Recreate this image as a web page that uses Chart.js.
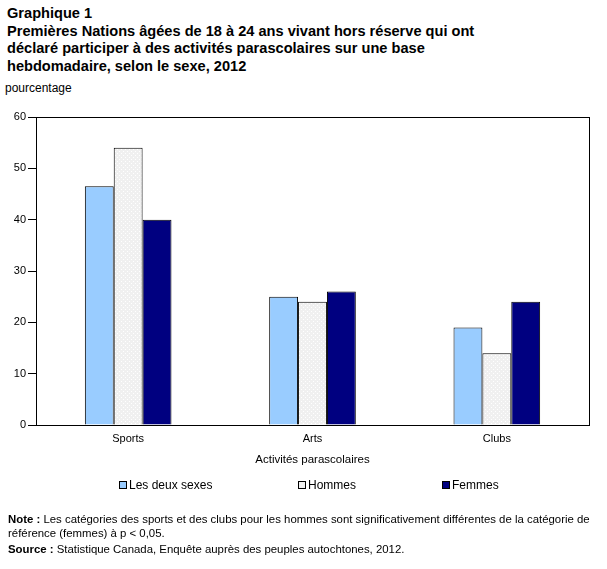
<!DOCTYPE html>
<html>
<head>
<meta charset="utf-8">
<script src="https://cdn.jsdelivr.net/npm/chart.js@4"></script>
<style>
  body { margin: 0; background: #fff; font-family: "Liberation Sans", Arial, sans-serif; color: #000; }
  #page { position: relative; width: 607px; height: 569px; overflow: hidden; }
  #titre { position: absolute; left: 7px; top: 5px; font-weight: bold; font-size: 14.6px; line-height: 17.7px; }
  #unite { position: absolute; left: 5px; top: 81px; font-size: 12px; }
  #wrap { position: absolute; left: 0; top: 0; width: 607px; height: 569px; }
  #legende { position: absolute; top: 478px; left: 0; width: 607px; font-size: 12px; }
  #legende span.item { position: absolute; white-space: nowrap; }
  #legende span.box { display: inline-block; width: 6px; height: 6px; border: 1px solid #000; margin-right: 2px; vertical-align: 0px; }
  #notes { position: absolute; left: 8px; top: 512px; width: 597px; font-size: 11.4px; line-height: 14px; }
  #notes p { margin: 0 0 2px 0; }
</style>
</head>
<body>
<div id="page">
  <div id="titre">Graphique 1<br>Premières Nations âgées de 18 à 24 ans vivant hors réserve qui ont<br>déclaré participer à des activités parascolaires sur une base<br>hebdomadaire, selon le sexe, 2012</div>
  <div id="unite">pourcentage</div>
  <div id="wrap"><canvas id="grafico"></canvas></div>
  <div id="legende"></div>
  <div id="notes">
    <p><b>Note :</b> Les catégories des sports et des clubs pour les hommes sont significativement différentes de la catégorie de référence (femmes) à p &lt; 0,05.</p>
    <p><b>Source :</b> Statistique Canada, Enquête auprès des peuples autochtones, 2012.</p>
  </div>
</div>
<script>
const categories = ["Sports", "Arts", "Clubs"];
const deuxSexes = [46.5, 25, 19];
const hommes = [54, 24, 14];
const femmes = [40, 26, 24];
const nomsSeries = ["Les deux sexes", "Hommes", "Femmes"];
const ticksY = [0, 10, 20, 30, 40, 50, 60];

// petit motif pointillé pour la série Hommes
function motif() {
  const c = document.createElement("canvas");
  c.width = 4; c.height = 4;
  const g = c.getContext("2d");
  g.fillStyle = "#f0f0f0";
  g.fillRect(0, 0, 4, 4);
  g.fillStyle = "#ffffff";
  g.fillRect(1, 1, 1, 1);
  g.fillRect(3, 3, 1, 1);
  return g.createPattern(c, "repeat");
}

const couleurs = ["#99ccff", motif(), "#000080"];
const couleursLegende = ["#99ccff", "#f0f0f0", "#000080"];

const cadre = {
  id: "cadre",
  afterDraw(chart) {
    const a = chart.chartArea;
    const ctx = chart.ctx;
    ctx.save();
    ctx.strokeStyle = "#000";
    ctx.lineWidth = 1;
    ctx.strokeRect(Math.round(a.left) + 0.5, Math.round(a.top) + 0.5, Math.round(a.right - a.left), Math.round(a.bottom - a.top));
    ctx.restore();
  }
};

Chart.defaults.font.family = '"Liberation Sans", Arial, sans-serif';
Chart.defaults.color = "#000";

const series = [deuxSexes, hommes, femmes];
const ctx = document.getElementById("grafico").getContext("2d");
const grafico = new Chart(ctx, {
  type: "bar",
  data: {
    labels: categories,
    datasets: series.map((d, i) => ({
      label: nomsSeries[i],
      data: d,
      backgroundColor: couleurs[i],
      borderColor: "#000",
      borderWidth: 1,
      categoryPercentage: 0.47,
      barPercentage: 1
    }))
  },
  options: {
    responsive: true,
    maintainAspectRatio: false,
    animation: false,
    layout: { padding: { top: 117, left: 0, right: 18, bottom: 94 } },
    plugins: { legend: { display: false }, tooltip: { enabled: false } },
    scales: {
      x: {
        grid: { display: false, drawTicks: false },
        border: { color: "#000" },
        ticks: { padding: 7, font: { size: 11 } },
        title: { display: true, text: "Activités parascolaires", font: { size: 11.5 }, padding: { top: 0, bottom: 8 } },
        afterFit: s => { s.height = 50; }
      },
      y: {
        min: 0,
        max: 60,
        afterBuildTicks: s => { s.ticks = ticksY.map(v => ({ value: v })); },
        grid: { drawOnChartArea: false, drawTicks: true, tickLength: 8, color: "#000" },
        border: { color: "#000" },
        ticks: { padding: 2, font: { size: 11 } },
        afterFit: s => { s.width = 36; }
      }
    }
  },
  plugins: [cadre]
});

// légende en HTML
const posLegende = [119, 298, 442];
const leg = document.getElementById("legende");
nomsSeries.forEach((n, i) => {
  const it = document.createElement("span");
  it.className = "item";
  it.style.left = posLegende[i] + "px";
  it.innerHTML = '<span class="box" style="background:' + couleursLegende[i] + '"></span>' + n;
  leg.appendChild(it);
});
</script>
</body>
</html>
